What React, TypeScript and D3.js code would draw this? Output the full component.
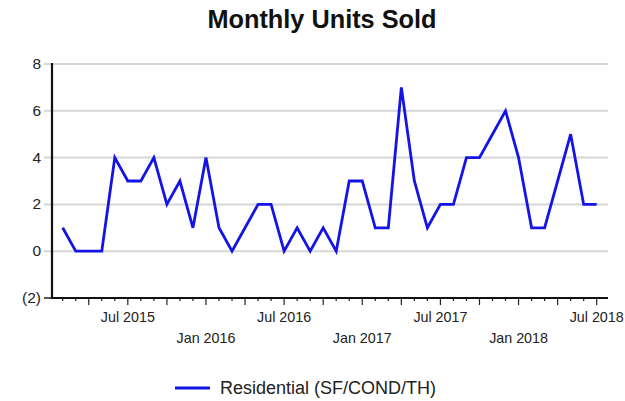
import React from "react";
import * as d3 from "d3";

const startMonth = new Date(2015, 1, 1); // Feb 2015
const values = [1, 0, 0, 0, 4, 3, 3, 4, 2, 3, 1, 4, 1, 0, 1, 2, 2, 0, 1, 0, 1, 0, 3, 3, 1, 1, 7, 3, 1, 2, 2, 4, 4, 5, 6, 4, 1, 1, 3, 5, 2, 2];
const yTicks = [-2, 0, 2, 4, 6, 8];
const title = "Monthly Units Sold";
const seriesName = "Residential (SF/COND/TH)";

const W = 625, H = 401;
const left = 52, right = 608, top = 64, bottom = 298;

export default function App() {
  const dates = values.map((_, i) => d3.timeMonth.offset(startMonth, i));
  const x = d3.scaleLinear().domain([0, values.length - 1]).range([62.7, 596.7]);
  const y = d3.scaleLinear().domain([-2, 8]).range([bottom, top]);
  const line = d3.line<number>().x((_, i) => x(i)).y((d) => y(d));
  const fmt = d3.timeFormat("%b %Y");
  const yFmt = (v: number) => (v < 0 ? `(${Math.abs(v)})` : `${v}`);
  const font = "Liberation Sans, Arial, sans-serif";

  return (
    <svg width={W} height={H} style={{ position: "absolute", left: 0, top: 0, background: "#fff" }} fontFamily={font}>
      <text x={322} y={28} textAnchor="middle" fontSize={25.3} fontWeight="bold" fill="#111">{title}</text>
      {yTicks.filter((t) => t > -2).map((t) => (
        <line key={"g" + t} x1={left - 8} x2={right} y1={y(t)} y2={y(t)} stroke="#d6d6d6" strokeWidth={2} />
      ))}
      <line x1={left - 8} x2={left} y1={y(-2)} y2={y(-2)} stroke="#222" strokeWidth={1.5} />
      {yTicks.map((t) => (
        <text key={"yl" + t} x={41} y={y(t) + 5} textAnchor="end" fontSize={15.5} fill="#222">{yFmt(t)}</text>
      ))}
      {dates.map((d, i) => {
        const major = d.getMonth() % 3 === 0;
        return <line key={"t" + i} x1={x(i)} x2={x(i)} y1={bottom} y2={bottom + (major ? 7 : 3)} stroke="#222" strokeWidth={1.2} />;
      })}
      {dates.map((d, i) => {
        const m = d.getMonth();
        if (m !== 0 && m !== 6) return null;
        return (
          <text key={"xl" + i} x={x(i)} y={m === 6 ? 322 : 343} textAnchor="middle" fontSize={14.3} fill="#222">{fmt(d)}</text>
        );
      })}
      <line x1={left} x2={left} y1={top - 1} y2={bottom + 1} stroke="#111" strokeWidth={2.2} />
      <line x1={left - 1} x2={right} y1={bottom} y2={bottom} stroke="#111" strokeWidth={2.2} />
      <path d={line(values) || ""} fill="none" stroke="#1414e6" strokeWidth={2.8} strokeLinejoin="miter" />
      <line x1={175} x2={210} y1={388} y2={388} stroke="#1414e6" strokeWidth={2.8} />
      <text x={220} y={394} fontSize={18} fill="#222">{seriesName}</text>
    </svg>
  );
}
